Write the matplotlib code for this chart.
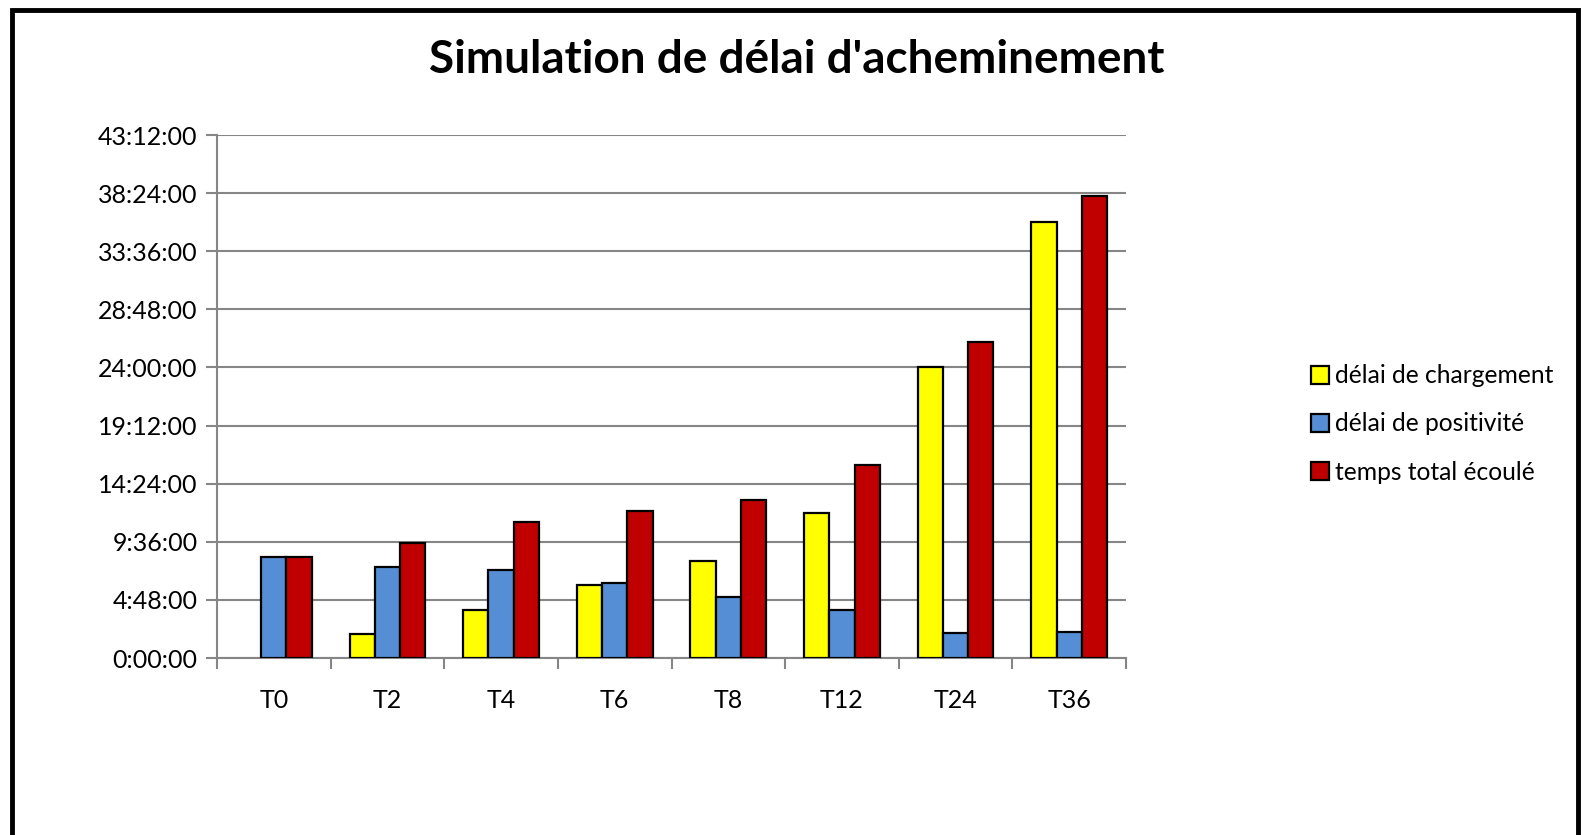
import matplotlib
matplotlib.use("Agg")
import matplotlib.pyplot as plt
import numpy as np
from matplotlib.patches import Rectangle
from matplotlib.ticker import FixedLocator, FuncFormatter

categories = ["T0", "T2", "T4", "T6", "T8", "T12", "T24", "T36"]
# values in hours
delai_chargement = [0, 2.0, 4.0, 6.0, 8.0, 12.0, 24.0, 36.0]
delai_positivite = [8.33, 7.5, 7.25, 6.17, 5.05, 3.95, 2.08, 2.15]
temps_total = [8.33, 9.5, 11.25, 12.17, 13.05, 15.95, 26.08, 38.15]
series_names = ["délai de chargement", "délai de positivité", "temps total écoulé"]
colors = ["#FFFF00", "#558ED5", "#C00000"]

plt.rcParams['font.family'] = ['Lato', 'DejaVu Sans']

W, H = 1583, 835
fig = plt.figure(figsize=(W / 100, H / 100), dpi=100)
ax = fig.add_axes([217 / W, 1 - 658 / H, (1126 - 217) / W, (658 - 135) / H])

x = np.arange(len(categories))
bw = 0.222
for i, (vals, col, name) in enumerate(zip([delai_chargement, delai_positivite, temps_total], colors, series_names)):
    edges = ["black" if v > 0 else "none" for v in vals]
    ax.bar(x + (i - 1) * bw, vals, width=bw, color=col, edgecolor=edges, linewidth=1.6,
           label=name, zorder=3)

ax.set_xlim(-0.5, len(categories) - 0.5)
ax.set_ylim(0, 43.2)
yt = np.arange(0, 43.21, 4.8)
ax.yaxis.set_major_locator(FixedLocator(yt))


def fmt(v, pos):
    total = int(round(v * 3600))
    h = total // 3600
    m = (total % 3600) // 60
    s = total % 60
    return f"{h}:{m:02d}:{s:02d}"


ax.yaxis.set_major_formatter(FuncFormatter(fmt))
ax.grid(axis="y", color="#868686", linewidth=1.5, zorder=0)

ax.set_xticks(x)
ax.set_xticklabels(categories)
ax.xaxis.set_minor_locator(FixedLocator(np.arange(-0.5, len(categories), 1.0)))
ax.tick_params(axis="x", which="major", length=0, labelsize=18, pad=22)
ax.tick_params(axis="x", which="minor", length=8, width=1.5, color="#868686")
ax.tick_params(axis="y", length=8, width=1.5, color="#868686", labelsize=18, pad=6)

for side in ["top", "right"]:
    ax.spines[side].set_visible(False)
for side in ["left", "bottom"]:
    ax.spines[side].set_color("#868686")
    ax.spines[side].set_linewidth(1.5)

fig.text(797 / W, 1 - 60 / H, "Simulation de délai d'acheminement", ha="center", va="center",
         fontsize=33, fontweight="bold")

handles, labels = ax.get_legend_handles_labels()
leg = ax.legend(handles, labels, loc="center left", bbox_to_anchor=(1301 / W, 1 - 424 / H),
                bbox_transform=fig.transFigure,
                frameon=False, fontsize=17.7, handlelength=0.75, handleheight=0.75, handletextpad=0.25,
                labelspacing=1.02, borderaxespad=0)
for p in leg.get_patches():
    p.set_edgecolor("black")

fig.patches.append(Rectangle((12 / W, -0.1), (1578 - 12) / W, 1.1 - 10 / H, transform=fig.transFigure,
                             fill=False, edgecolor="black", linewidth=3.5, clip_on=False))

fig.savefig("out.png", dpi=100)
